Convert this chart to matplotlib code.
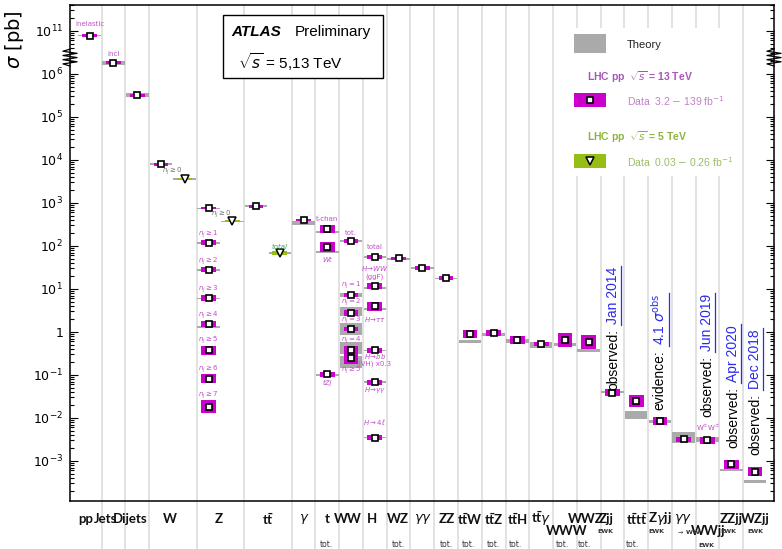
import numpy as np
import matplotlib
matplotlib.use('Agg')
import matplotlib.pyplot as plt
from matplotlib import transforms
from matplotlib.patches import Rectangle
from matplotlib.lines import Line2D
from matplotlib.ticker import FixedLocator, FuncFormatter

plt.rcParams['mathtext.fontset'] = 'custom'
plt.rcParams['mathtext.rm'] = 'DejaVu Sans'
plt.rcParams['mathtext.it'] = 'DejaVu Sans:italic'
plt.rcParams['mathtext.bf'] = 'Lato:bold'
plt.rcParams['mathtext.sf'] = 'DejaVu Sans'

nan = np.nan

# ---- values (sigma in pb) ----
# category labels along the x axis (columns are 1 unit wide, W/Z/ttbar are 2 units)
cat_labels = ['pp', 'Jets', 'Dijets', 'W', 'Z', r'$\mathbf{t\bar{t}}$', r'$\gamma$', 't', 'WW', 'H', 'WZ',
              r'$\gamma\gamma$', 'ZZ', r'$\mathbf{t\bar{t}W}$', r'$\mathbf{t\bar{t}Z}$', r'$\mathbf{t\bar{t}H}$',
              r'$\mathbf{t\bar{t}}\gamma$', 'WWW', 'WWZ', 'Zjj', r'$\mathbf{t\bar{t}t\bar{t}}$',
              r'$\mathbf{Z}\gamma\mathbf{jj}$', r'$\gamma\gamma$', 'WWjj', 'ZZjj', 'WZjj']
cat_x = [-0.68, 0.18, 1.2, 2.88, 4.94, 7.0, 8.52, 9.48, 10.37, 11.38, 12.47, 13.52, 14.51, 15.5,
         16.51, 17.52, 18.49, 19.58, 20.38, 21.25, 22.53, 23.5, 24.47, 25.52, 26.49, 27.5]
cat_lower = ['WWW', 'WWjj']
col_edges = [0, 1, 2, 4, 6, 8] + list(range(9, 28))
tot_x = [9.46, 12.5, 14.5, 15.42, 16.47, 17.4, 19.4, 20.33, 22.36]
ewk_x = [21.2, 23.36, 26.36, 27.5]

# 13 TeV: column, measured value, rel. data error, theory value, rel. theory error
x13 = [-0.5, 0.5, 1.5, 2.5, 4.5, 4.5, 4.5, 4.5, 4.5, 4.5, 4.5, 4.5,
       6.5, 8.5, 9.5, 9.5, 9.5, 10.5, 10.5, 10.5, 10.5, 10.5, 10.5,
       11.5, 11.5, 11.5, 11.5, 11.5, 11.5, 12.5, 13.5, 14.5, 15.5, 16.5, 17.5, 18.5,
       19.5, 20.5, 21.5, 22.5, 23.5, 24.5, 25.5, 26.5, 27.5]
val13 = [7.8e10, 1.8e6, 3.2e5, 8.0e3, 7.6e2, 118, 27.7, 6.2, 1.5, 0.37, 0.081, 0.018,
         830, 400, 245, 96, 0.104, 131, 7.2, 2.8, 1.17, 0.37, 0.245,
         56, 11.7, 3.9, 0.37, 0.068, 0.0035, 51.6, 31.3, 17.7, 0.88, 0.96, 0.65, 0.53,
         0.65, 0.57, 0.039, 0.025, 0.0083, 0.0032, 0.0030, 8.4e-4, 5.6e-4]
err13 = [0.08, 0.08, 0.08, 0.08, 0.08, 0.14, 0.14, 0.17, 0.17, 0.24, 0.27, 0.42,
         0.08, 0.08, 0.24, 0.31, 0.14, 0.11, 0.14, 0.17, 0.14, 0.24, 0.34,
         0.11, 0.17, 0.27, 0.17, 0.14, 0.14, 0.08, 0.11, 0.11, 0.24, 0.17, 0.21, 0.11,
         0.42, 0.45, 0.21, 0.38, 0.24, 0.14, 0.21, 0.27, 0.27]
th13 = [7.8e10, 1.8e6, 3.2e5, 8.0e3, 7.4e2, 115, 27, 6.0, 1.3, nan, nan, nan,
        830, 340, 214, 71, 0.10, 129, 7.2, 3.0, 1.19, 0.43, 0.20,
        56, 10.4, 3.4, 0.37, 0.068, 0.0035, 50, 31, 17.5, 0.60, 0.87, 0.61, 0.50,
        0.51, 0.37, 0.040, 0.0117, 0.0082, 0.0035, 0.0031, 6.2e-4, 3.3e-4]
therr13 = [0.05, 0.11, 0.11, 0.05, 0.05, 0.05, 0.05, 0.05, 0.05, 0, 0, 0,
           0.05, 0.11, 0.05, 0.05, 0.05, 0.05, 0.14, 0.27, 0.38, 0.38, 0.38,
           0.05, 0.05, 0.05, 0.05, 0.05, 0.05, 0.05, 0.05, 0.05, 0.11, 0.11, 0.11, 0.17,
           0.11, 0.11, 0.08, 0.21, 0.08, 0.34, 0.14, 0.05, 0.08]

# 5 TeV: W, Z, ttbar
x5 = [3.5, 5.5, 7.5]
val5 = [3.6e3, 3.8e2, 69]
err5 = [0.08, 0.08, 0.11]
th5 = [3.6e3, 3.7e2, 69]
therr5 = [0.05, 0.05, 0.05]

# small labels next to the 13 TeV points: (index, text, dx px, dy px, italic)
ann13 = [(0, 'inelastic', 0, 12, False), (1, 'incl', 0, 9, False),
         (5, r'$n_j \geq 1$', 0, 9, True), (6, r'$n_j \geq 2$', 0, 9, True),
         (7, r'$n_j \geq 3$', 0, 9, True), (8, r'$n_j \geq 4$', 0, 9, True),
         (9, r'$n_j \geq 5$', 0, 10, True), (10, r'$n_j \geq 6$', 0, 10, True),
         (11, r'$n_j \geq 7$', 0, 12, True),
         (14, 't-chan', 0, 10, False), (15, 'Wt', 0, -13, True), (16, 'tZj', 0, -9, True),
         (17, 'tot.', 0, 8, False),
         (18, r'$n_j = 1$', 0, 10, True), (19, r'$n_j = 2$', 0, 10, True),
         (20, r'$n_j = 3$', 0, 9, True), (21, r'$n_j = 4$', 0, 10, True),
         (22, r'$n_j \geq 5$', 0, -12, True),
         (23, 'total', 0, 10, False), (24, r'$H\!\rightarrow\!WW$', 0, 17, True),
         (24, '(ggF)', 0, 9, False), (25, r'$H\!\rightarrow\!\tau\tau$', 0, -13, True),
         (26, r'$H\!\rightarrow\!bb$', 0, -6, True), (26, '(VH) x0.3', 0, -13, False),
         (27, r'$H\!\rightarrow\!\gamma\gamma$', 0, -8, True), (28, r'$H\rightarrow 4\ell$', 0, 16, True),
         (42, r'W$^{\pm}$W$^{\pm}$', 0, 13, False)]
ann_gray = [(3, r'$n_j \geq 0$', 11, -7), (4, r'$n_j \geq 0$', 13, -6)]

# observation annotations (rotated)
obs_x = [21.52, 23.46, 25.48, 26.57, 27.5]
obs_y = [0.0448, 0.01535, 0.0107, 0.002, 0.00138]
obs_word = ['observed:', 'evidence:', 'observed:', 'observed:', 'observed:']
obs_date = ['Jan 2014', r'4.1 $\sigma^{\rm obs}$', 'Jun 2019', 'Apr 2020', 'Dec 2018']

MAG = '#cc00cc'
GRN = '#96be14'
THC = '#aaaaaa'
TXT_MAG = '#c050c8'


# broken log axis: 10^6.35 .. 10^10.45 squeezed into a tenth of a decade
def fwd(y):
    l = np.log10(np.clip(y, 1e-300, None))
    return np.where(l <= 6.35, l, np.where(l >= 10.45, l - 4.0, 6.35 + (l - 6.35) * 0.1 / 4.1))


def inv(u):
    u = np.clip(np.asarray(u, dtype=float), -100, 100)
    l = np.where(u <= 6.35, u, np.where(u >= 6.45, u + 4.0, 6.35 + (u - 6.35) * 41.0))
    return 10.0 ** l


fig = plt.figure(figsize=(7.82, 5.49), dpi=100)
ax = fig.add_axes([70 / 782, 48 / 549, 704 / 782, 496 / 549])
ax.set_yscale('function', functions=(fwd, inv))
ax.set_xlim(-1.33, 28.3)
ax.set_ylim(1.17e-4, 4.0e11)


def band(x, v, e, w, color, z):
    lo, hi = v / (1 + e), v * (1 + e)
    ax.bar(x, hi - lo, bottom=lo, width=w, color=color, linewidth=0, zorder=z)


for x, t, te in zip(x13 + x5, th13 + th5, therr13 + therr5):
    if not np.isnan(t):
        band(x, t, te, 0.95, THC, 2)
for x, v, e in zip(x13, val13, err13):
    band(x, v, e, 0.62, MAG, 3)
for x, v, e in zip(x5, val5, err5):
    band(x, v, e, 0.62, GRN, 3)
ax.plot(x13, val13, 's', ms=4.6, mfc='white', mec='black', mew=1.2, zorder=4)
ax.plot(x5, val5, 'v', ms=5.5, mfc='white', mec='black', mew=1.1, zorder=4)

for i, txt, dx, dy, it in ann13:
    ax.annotate(txt, (x13[i], val13[i]), xytext=(dx * 0.72, dy * 0.72), textcoords='offset points',
                ha='center', va='center', fontsize=5, color=TXT_MAG,
                style='italic' if it else 'normal', zorder=6)
for i, txt, dx, dy in ann_gray:
    ax.annotate(txt, (x13[i], val13[i]), xytext=(dx * 0.72, dy * 0.72), textcoords='offset points',
                ha='center', va='center', fontsize=5, color='#707070', zorder=6)
ax.annotate('total', (x5[2], val5[2]), xytext=(0, 6 * 0.72), textcoords='offset points',
            ha='center', va='center', fontsize=5, color='#30b050', style='italic', zorder=6)

# column separators, continued through the label area
for b in col_edges:
    ax.axvline(b, ymin=-0.1, ymax=1, color='#dddddd', lw=1.2, zorder=0, clip_on=False)

# axis styling
major = [1e-3, 1e-2, 0.1, 1, 10, 100, 1e3, 1e4, 1e5, 1e6, 1e11]
minor = [k * 10.0 ** d for d in range(-4, 12) for k in range(2, 10)]
minor = [m for m in minor if 1.17e-4 <= m <= 4e11 and not (10 ** 6.35 < m < 10 ** 10.45)]
ax.yaxis.set_major_locator(FixedLocator(major))
ax.yaxis.set_minor_locator(FixedLocator(minor))


def fmt(v, pos):
    e = int(round(np.log10(v)))
    return '1' if e == 0 else r'$10^{%d}$' % e


ax.yaxis.set_major_formatter(FuncFormatter(fmt))
ax.yaxis.set_minor_formatter(FuncFormatter(lambda v, p: ''))
ax.tick_params(axis='y', which='both', direction='in', left=True, right=True, width=0.8, labelsize=9, pad=5)
ax.tick_params(axis='y', which='major', length=6)
ax.tick_params(axis='y', which='minor', length=3)
ax.tick_params(axis='x', length=0, labelbottom=False)
for s in ax.spines.values():
    s.set_linewidth(1.1)
ax.set_ylabel(r'$\sigma$ [pb]', fontsize=14, loc='top')
ax.yaxis.set_label_coords(-0.062, 0.99)

# axis break marks
zz_y = np.linspace(0.877, 0.911, 9)
zz_x = np.array([0, -1, 1, -1, 1, -1, 1, -1, 0]) * 0.01
for x0 in (0.0, 1.0):
    ax.plot(x0 + zz_x, zz_y, transform=ax.transAxes, clip_on=False, color='black', lw=0.9, zorder=7)

# category labels below the axis
lab_tr = transforms.blended_transform_factory(ax.transData, ax.transAxes)
for x, lab in zip(cat_x, cat_labels):
    y = -0.061 if lab in cat_lower else -0.036
    ax.text(x, y, lab, transform=lab_tr, ha='center', va='center', fontsize=9.5,
            fontweight='bold', family='Lato', color='#111111')
for x in tot_x:
    ax.text(x, -0.087, 'tot.', transform=lab_tr, ha='center', va='center', fontsize=5.5, color='#333333')
for x in ewk_x:
    ax.text(x, -0.062, 'EWK', transform=lab_tr, ha='center', va='center', fontsize=4.5,
            fontweight='bold', color='#333333')
ax.text(25.46, -0.089, 'EWK', transform=lab_tr, ha='center', va='center', fontsize=4.5,
        fontweight='bold', color='#333333')
ax.text(24.72, -0.062, r'$\rightarrow$ WW', transform=lab_tr, ha='center', va='center', fontsize=4.5,
        fontweight='bold', color='#333333')

# ATLAS box
ax.add_patch(Rectangle((0.2174, 0.852), 0.2273, 0.128, transform=ax.transAxes,
                       facecolor='white', edgecolor='black', lw=1.0, zorder=8))
ax.text(0.2297, 0.946, 'ATLAS', transform=ax.transAxes, fontsize=11, fontweight='bold',
        style='italic', family='Liberation Sans', va='center', zorder=9)
ax.text(0.3196, 0.946, 'Preliminary', transform=ax.transAxes, fontsize=11,
        family='Liberation Sans', va='center', zorder=9)
ax.text(0.2386, 0.886, r'$\sqrt{s}$ = 5,13 TeV', transform=ax.transAxes, fontsize=11,
        family='Liberation Sans', va='center', zorder=9)

# legend
ax.add_patch(Rectangle((0.692, 0.655), 0.258, 0.299, transform=ax.transAxes,
                       facecolor='white', edgecolor='none', zorder=8))
ax.add_patch(Rectangle((0.716, 0.904), 0.046, 0.0375, transform=ax.transAxes,
                       facecolor=THC, edgecolor='none', zorder=9))
ax.text(0.791, 0.919, 'Theory', transform=ax.transAxes, fontsize=8, color='#222222',
        family='Liberation Sans', va='center', zorder=9)
ax.text(0.734, 0.855, r'LHC pp  $\sqrt{s}$ = 13 TeV', transform=ax.transAxes, fontsize=7.5,
        fontweight='bold', color='#a855b8', family='Liberation Sans', va='center', zorder=9)
ax.add_patch(Rectangle((0.716, 0.794), 0.046, 0.028, transform=ax.transAxes,
                       facecolor=MAG, edgecolor='none', zorder=9))
ax.plot([0.739], [0.808], 's', transform=ax.transAxes, ms=4.6, mfc='white', mec='black', mew=1.2, zorder=10)
ax.text(0.791, 0.806, r'Data  3.2 $-$ 139 fb$^{-1}$', transform=ax.transAxes, fontsize=7.5,
        color='#c080c8', family='Liberation Sans', va='center', zorder=9)
ax.text(0.734, 0.733, r'LHC pp  $\sqrt{s}$ = 5 TeV', transform=ax.transAxes, fontsize=7.5,
        fontweight='bold', color='#8cb43c', family='Liberation Sans', va='center', zorder=9)
ax.add_patch(Rectangle((0.716, 0.671), 0.046, 0.028, transform=ax.transAxes,
                       facecolor=GRN, edgecolor='none', zorder=9))
ax.plot([0.739], [0.685], 'v', transform=ax.transAxes, ms=5.5, mfc='white', mec='black', mew=1.1, zorder=10)
ax.text(0.791, 0.684, r'Data  0.03 $-$ 0.26 fb$^{-1}$', transform=ax.transAxes, fontsize=7.5,
        color='#98be64', family='Liberation Sans', va='center', zorder=9)

# rotated observation notes with underlined dates
words = []
for x, y, w in zip(obs_x, obs_y, obs_word):
    words.append(ax.text(x, y, w, rotation=90, ha='center', va='bottom', fontsize=10,
                         family='Liberation Sans', color='black', zorder=6))
fig.canvas.draw()
rend = fig.canvas.get_renderer()
for t, x, d in zip(words, obs_x, obs_date):
    bb = t.get_window_extent(rend)
    xd, yd = ax.transData.inverted().transform((0.5 * (bb.x0 + bb.x1), bb.y1 + 5))
    dt = ax.text(x, yd, d, rotation=90, ha='center', va='bottom', fontsize=10,
                 family='Liberation Sans', color='#2a2af0', zorder=6)
    fig.canvas.draw()
    db = dt.get_window_extent(rend)
    fig.add_artist(Line2D([db.x1 + 1, db.x1 + 1], [db.y0 - 1, db.y1 + 1], transform=None,
                          color='#2a2af0', lw=0.9))

fig.savefig('out.png', dpi=100)
